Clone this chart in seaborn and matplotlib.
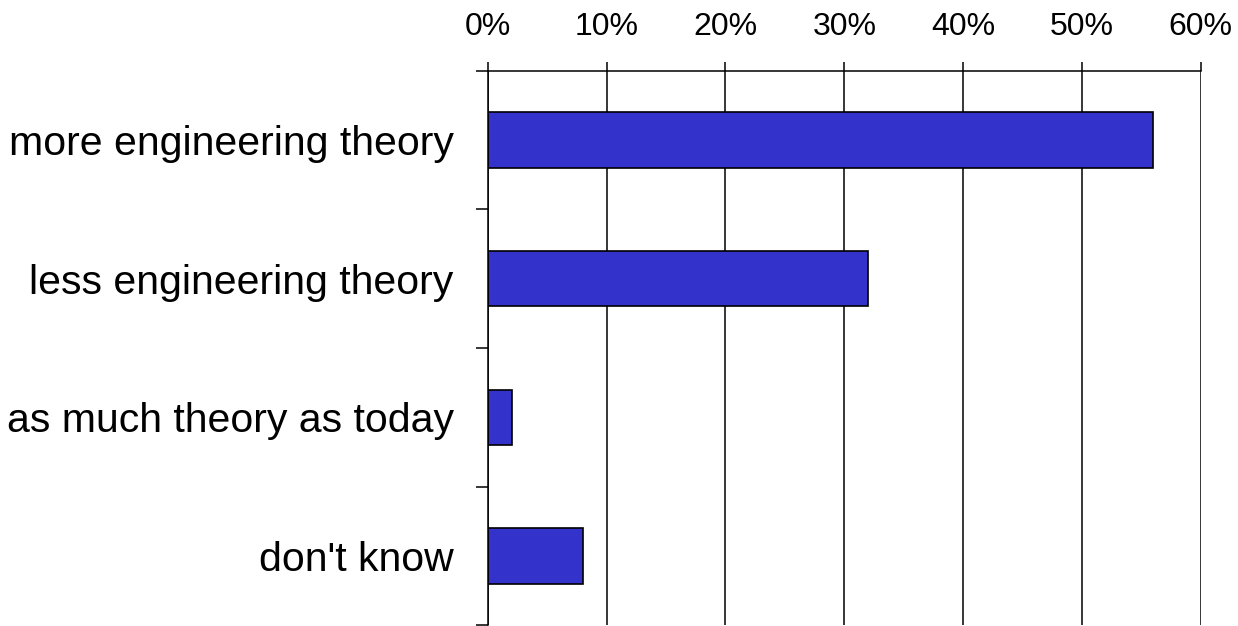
import numpy as np
import pandas as pd
import matplotlib.pyplot as plt
import seaborn as sns
from matplotlib.ticker import FixedLocator, FuncFormatter

# Data (percent of respondents)
answers = ["more engineering theory", "less engineering theory",
           "as much theory as today", "don't know"]
shares = [56, 32, 2, 8]
x_ticks = [0, 10, 20, 30, 40, 50, 60]

df = pd.DataFrame({"answer": answers, "share": shares})

sns.set_style("white")
plt.rcParams["font.family"] = ["Liberation Sans", "DejaVu Sans"]
plt.rcParams["text.color"] = "black"
plt.rcParams["xtick.color"] = "black"
plt.rcParams["ytick.color"] = "black"

fig = plt.figure(figsize=(12.38, 6.26), dpi=100)
ax = fig.add_axes([0.394, 0.001, 0.576, 0.886])

sns.barplot(data=df, x="share", y="answer", orient="h", ax=ax,
            color="#3333CC", edgecolor="black", linewidth=1.2,
            width=0.4, saturation=1)

ax.set_xlim(0, 60)
ax.set_ylim(3.5, -0.5)
ax.xaxis.tick_top()
ax.xaxis.set_major_locator(FixedLocator(x_ticks))
ax.xaxis.set_major_formatter(FuncFormatter(lambda v, p: f"{v:.0f}%"))
ax.grid(axis="x", color="black", linewidth=1.1)
ax.set_axisbelow(True)

# category ticks sit between the bars
ax.yaxis.set_minor_locator(FixedLocator(np.arange(-0.5, len(answers), 1)))
ax.tick_params(axis="y", which="major", length=0, pad=24.5, labelsize=29.5, labelcolor="black")
ax.tick_params(axis="y", which="minor", length=8.6, width=1.1, color="black", direction="out", left=True)
ax.tick_params(axis="x", which="major", length=6.5, width=1.1, color="black", direction="out",
               top=True, bottom=False, pad=14, labelsize=23, labelcolor="black")

for side in ["bottom", "right"]:
    ax.spines[side].set_visible(False)
for side in ["top", "left"]:
    ax.spines[side].set_color("black")
    ax.spines[side].set_linewidth(1.1)

ax.set_xlabel("")
ax.set_ylabel("")

fig.savefig("out.png", dpi=100)
